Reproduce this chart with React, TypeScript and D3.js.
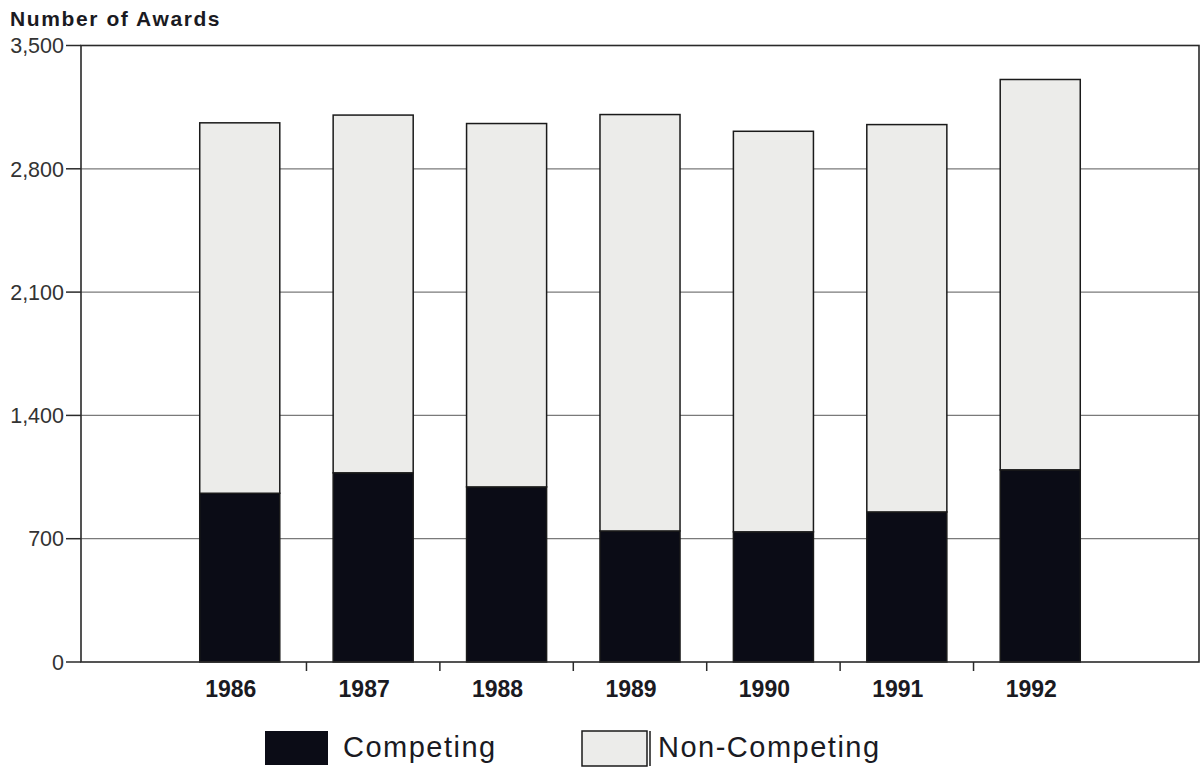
import React from "react";
import * as d3 from "d3";

const years = ["1986", "1987", "1988", "1989", "1990", "1991", "1992"];
const competing = [958, 1074, 994, 744, 739, 852, 1091];
const nonCompeting = [2103, 2031, 2063, 2364, 2274, 2199, 2216];
const yTicks = [0, 700, 1400, 2100, 2800, 3500];

const W = 1204;
const H = 768;
const left = 81;
const right = 1199;
const top = 45.5;
const bottom = 662;

const FONT = "'Liberation Sans', Arial, Helvetica, sans-serif";

export default function App() {
  const rows = years.map((year, i) => ({
    year,
    competing: competing[i],
    nonCompeting: nonCompeting[i]
  }));
  const stacked = d3.stack<any>().keys(["competing", "nonCompeting"])(rows);

  const x = d3
    .scaleBand()
    .domain(years)
    .range([left, right])
    .paddingInner(0.4)
    .paddingOuter(0.89);

  const y = d3.scaleLinear().domain([0, 3500]).range([bottom, top]);

  const step = x.step();
  // boundary ticks between the categories only
  const boundaryTicks = years.slice(1).map(yr => (x(yr) as number) - (step - x.bandwidth()) / 2);

  const fills = { competing: "#0b0c16", nonCompeting: "#ececea" };

  return (
    <svg width={W} height={H} style={{ position: "absolute", left: 0, top: 0, background: "#fff" }}>
      <text x={10} y={25.5} fontFamily={FONT} fontWeight="bold" fontSize={21} letterSpacing={1.6} fill="#1a1a22">
        Number of  Awards
      </text>

      {/* gridlines */}
      {yTicks.slice(1, -1).map(t => (
        <line key={t} x1={left} x2={right} y1={y(t)} y2={y(t)} stroke="#7a7a7a" strokeWidth={1.2} />
      ))}

      {/* bars */}
      {stacked.map(layer => (
        <g key={layer.key}>
          {layer.map((d, i) => (
            <rect
              key={years[i]}
              x={x(years[i])}
              y={y(d[1])}
              width={x.bandwidth()}
              height={y(d[0]) - y(d[1])}
              fill={fills[layer.key as keyof typeof fills]}
              stroke="#1a1a1a"
              strokeWidth={1.5}
            />
          ))}
        </g>
      ))}

      {/* frame */}
      <rect x={left} y={top} width={right - left} height={bottom - top} fill="none" stroke="#2a2a2a" strokeWidth={1.6} />

      {/* y axis */}
      {yTicks.map(t => (
        <g key={t}>
          <line x1={66} x2={left} y1={y(t)} y2={y(t)} stroke="#2a2a2a" strokeWidth={1.5} />
          <text
            x={64}
            y={y(t)}
            dy="0.36em"
            textAnchor="end"
            fontFamily={FONT}
            fontSize={21.5}
            fill="#333"
          >
            {d3.format(",")(t)}
          </text>
        </g>
      ))}

      {/* x axis */}
      {boundaryTicks.map((bx, i) => (
        <line key={i} x1={bx} x2={bx} y1={bottom} y2={bottom + 9} stroke="#2a2a2a" strokeWidth={1.5} />
      ))}
      {years.map(yr => (
        <text
          key={yr}
          x={(x(yr) as number) + x.bandwidth() / 2 - 9}
          y={697}
          textAnchor="middle"
          fontFamily={FONT}
          fontWeight="bold"
          fontSize={23}
          fill="#1a1a22"
        >
          {yr}
        </text>
      ))}

      {/* legend */}
      <rect x={265} y={731} width={63} height={34} fill={fills.competing} />
      <text x={343} y={757} fontFamily={FONT} fontSize={29} letterSpacing={1.5} fill="#1a1a22">
        Competing
      </text>
      <rect x={582} y={731} width={65} height={35} fill={fills.nonCompeting} stroke="#1a1a1a" strokeWidth={1.5} />
      <line x1={650} x2={650} y1={731} y2={766} stroke="#1a1a1a" strokeWidth={1.5} />
      <text x={658} y={757} fontFamily={FONT} fontSize={29} letterSpacing={1.5} fill="#1a1a22">
        Non-Competing
      </text>
    </svg>
  );
}
